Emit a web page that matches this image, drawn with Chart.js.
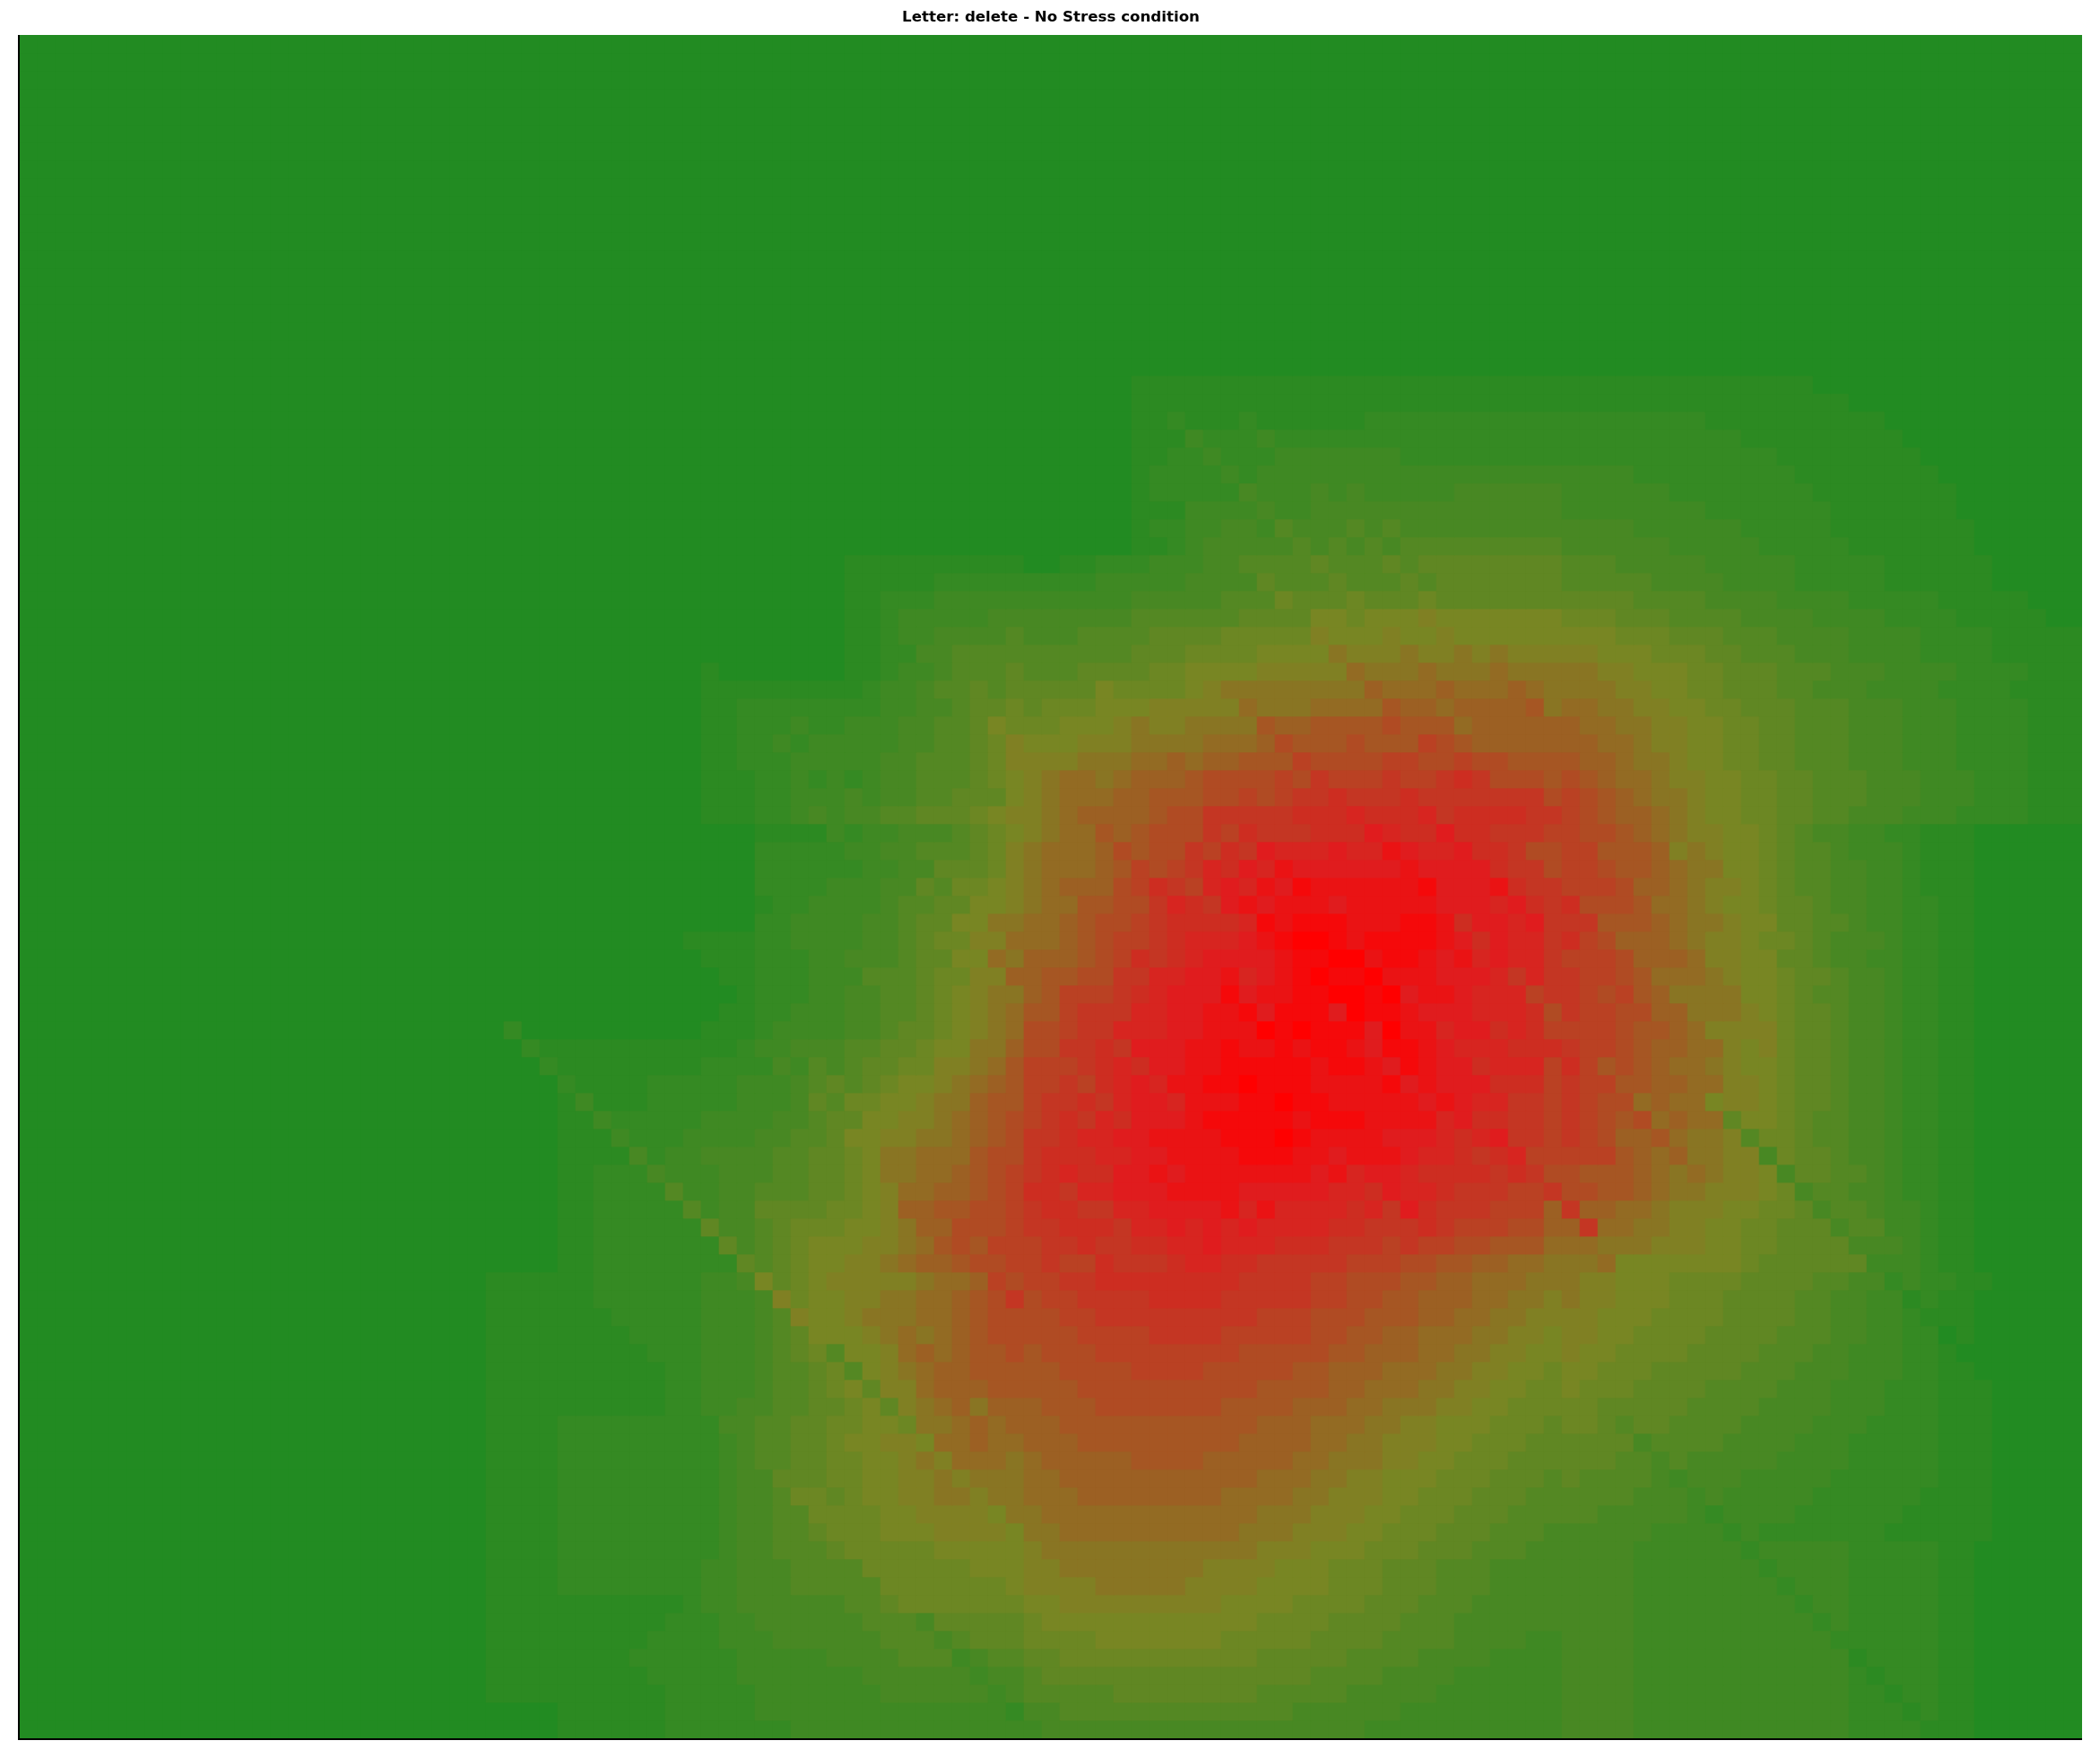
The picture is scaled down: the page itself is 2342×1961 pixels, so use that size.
<!DOCTYPE html>
<html>
<head>
<meta charset="utf-8">
<script src="https://cdn.jsdelivr.net/npm/chart.js@4.4.1/dist/chart.umd.min.js"></script>
<style>
  html, body { margin: 0; padding: 0; background: #ffffff; }
  #wrap { width: 2342px; height: 1961px; }
</style>
</head>
<body>
<div id="wrap"><canvas id="c" width="2342" height="1961"></canvas></div>
<script>
// ---------------- DATA ----------------
const titleText = 'Letter: delete - No Stress condition';

// intensity level of every cell, one string per row (top row first), one char per column
// levels: 0..9 then a..m  (0 = lowest, m = highest)
const A26 = '00000000000000000000000000';
const A30 = '000000000000000000000000000000';
const A29 = '00000000000000000000000000000';

const heatRows = [
  A26 + A30 + A30 + A29,
  A26 + A30 + A30 + A29,
  A26 + A30 + A30 + A29,
  A26 + A30 + A30 + A29,
  A26 + A30 + A30 + A29,
  A26 + A30 + A30 + A29,
  A26 + A30 + A30 + A29,
  A26 + A30 + A30 + A29,
  A26 + A30 + A30 + A29,
  A26 + A30 + A30 + A29,
  A26 + A30 + A30 + A29,
  A26 + A30 + A30 + A29,
  A26 + A30 + A30 + A29,
  A26 + A30 + A30 + A29,
  A26 + A30 + A30 + A29,
  A26 + A30 + A30 + A29,
  A26 + A30 + A30 + A29,
  A26 + A30 + A30 + A29,
  A26 + A30 + A30 + A29,
  A26 + A30 + '000000111111111111111111111111' + '11111111111111000000000000000',
  A26 + A30 + '000000111111111111111111111111' + '11111111111111110000000000000',
  A26 + A30 + '000000112111211111122222222222' + '22222222111111111100000000000',
  A26 + A30 + '000000111322232222222222222222' + '22222222221111111110000000000',
  A26 + A30 + '000000112232223333333222222222' + '22222222222211111111000000000',
  A26 + A30 + '000000122223233333333333333333' + '33332222222221111111100000000',
  A26 + A30 + '000000122222433343433333444444' + '33333322222222111111110000000',
  A26 + A30 + '000000111333343344444444444444' + '33333333222222211111110000000',
  A26 + A30 + '000000122334435444545444444444' + '44443333332222211111111000000',
  A26 + A30 + '000000112344444545454555555555' + '44444433333222221111111000000',
  A26 + '000000000000000000001111111111' + '001122233344555565556566666666' + '55544444333332222211111100000',
  A26 + '000000000000000000001111122222' + '222233333444465556555656666666' + '55555444433332222211111100000',
  A26 + '000000000000000000001122233333' + '333333444445557666766676666666' + '66665555444433332222211111000',
  A26 + '000000000000000000001123333344' + '444444555555666688788898888888' + '77766655554444333322221111100',
  A26 + '000000000000000000001123344445' + '444555566667777798889889888888' + '88877766655544443333222211111',
  A26 + '000000000000000000001122445555' + '55555566677778888a999a99a9a999' + '99888777665554443333222211111',
  A26 + '000000000000100000001123345556' + '555666677888899999baaabaaabaaa' + 'aa998887766655544433332222111',
  A26 + '000000000000111111111233455656' + '66668777789aaaaaaaacbbbcbbbcba' + 'aaa99887766655444333322221111',
  A26 + '000000000000112222222233445667' + '677788899999baaabbbbdccbccccda' + 'bbaa9988776665554443332222111',
  A26 + '000000000000112223223334455687' + '778889a99aaaadccddddedddbccccc' + 'cbbaa998877665554443332222111',
  A26 + '000000000000112232333334455679' + '888999aaaabbbcedddedddfedccccc' + 'ccbba998877665554443332222111',
  A26 + '000000000000112223333344555679' + '999aaabbcbccdddfeeeeffeefeeddd' + 'dccbaa98877665554443332222111',
  A26 + '000000000000111223232344555678' + '9abbabcccdeeeefegfffgffghgeeed' + 'edcbba99887766555444333222111',
  A26 + '000000000000111223334344556668' + '9abbbccdddeefefgghggghggggggge' + 'fedcbaa9887766555444333222111',
  A26 + '000000000000111223434455666789' + '9abccccdeeggggghhhihhhighhhhgg' + 'fedccba9887766554443332222111',
  A26 + '000000000000000111132334445678' + '9abbdcdeeegfhggghhhjihhjhhgggf' + 'feedcba99887654433221' + '11000000',
  A26 + '000000000000000222223344555679' + 'abbbcedeegfhgjiiijiikjiijhhgee' + 'ffdddc9a9887655433321' + '11000000',
  A26 + '000000000000000222222334466679' + 'abbbcdfefgihjikjjjjjjkjjjjhgge' + 'ffeddcbaa887655443321' + '11000000',
  A26 + '000000000000000222233344657789' + 'abcccefhgfijikjlkkkkkkljjjkhgg' + 'fffeccba9987655443321' + '11000000',
  A26 + '000000000000000122333345566889' + 'abbddeegihgjkjkkkjkkkkkjjjijhg' + 'heeedbba9887665443322' + '11000000',
  A26 + '0000000000000002233334456688aa' + 'bbcdeefghhhhilklllkkkllkhjjijg' + 'ggdddcbaa988665543322' + '11000000',
  A26 + '00000000000111122333344567799b' + 'bbcdeffghiiijklmmlkllllkjhjiig' + 'hfecccba9987765444322' + '11000000',
  A26 + '0000000000001112223344456688ba' + 'cccdefhghijjjjkllmmkllkjkijiig' + 'fffecccb9988665443322' + '11000000',
  A26 + '00000000000001122233355567799c' + 'cddeeggiijjkijklmllmkkkjjjigig' + 'gffedbbba988766544322' + '11000000',
  A26 + '0000000000000012223344556789aa' + 'cdfffghijjjljkkllmmlmjkkjiiifg' + 'gfefdcaaaa88765544322' + '11000000',
  A26 + '0000000000000112233344556789ab' + 'ddfgggiijjkkljllljmllkjjjiiihe' + 'gffeeccaaa98766544322' + '11000000',
  A26 + '0200000000001112333344566789ab' + 'eefggiiijjkkkmlmllljmkkijjhihf' + 'fffeddcb9999766544322' + '11000000',
  A26 + '002111111111112334445566788aac' + 'eegghgjjjkklkklkllkjllkjiiihhh' + 'gffedccbb989766544322' + '11000000',
  A26 + '000211111111222243545667799abd' + 'fffghihjjkklllllkllkjlkjjhiiif' + 'hfdedcbba988766544322' + '11000000',
  A26 + '00002111122222333456567889abcd' + 'ffgfhijikkllmlllkkkkljkjjjhhhf' + 'gffddccbb998766544322' + '11000000',
  A26 + '0000131112222233346577889aacdd' + 'fgghgijjikkkllmllkkkkkjkjiiggf' + 'gfeebcbb8998766544322' + '11000000',
  A26 + '0000113222223333445668899abcde' + 'fghgihjjjklllllklllkkkkijhhggf' + 'gfedebcbb688765544322' + '11000000',
  A26 + '000011132223333445568899aabcde' + 'gghiijjkkkklllmlkkkkjjjihijggf' + 'gfeccdbaa957765544322' + '11000000',
  A26 + '0000111142334444556678aabbbdee' + 'ghhhiijjkkkklllkkjkkkjiihghiff' + 'fffdcbcaa994766544322' + '11000000',
  A26 + '0000112224333444556678aabbcdef' + 'ghihhjjkjkkkkkkkjkijjihhhhghge' + 'edddcbaba998466554322' + '11000000',
  A26 + '00001122225334455566789bbccdef' + 'hhgiijjjkkkkjjjjjiihjiihgggffg' + 'eeddcbaa9998745544322' + '11000000',
  A26 + '00001122222534466667789ccddeef' + 'ghhggiijjjjkikiiiihigjhgggfffc' + 'gccbba999887764554332' + '11000000',
  A26 + '00001122222264456777889acceeef' + 'gghhhgiijijijiiiihhggghgfffeec' + 'cgbbaa998877666455332' + '11000000',
  A26 + '00001122222226456788899abdedff' + 'fgghgghhiijiiihhhgggfgffeedddb' + 'bbaaa9998877666644432' + '11000000',
  A26 + '0000112222222265678899abccdeef' + 'fgffhggghiihhgggggfffeeddccbba' + 'aab888888876666663332' + '11000000',
  A26 + '111111222222334867899999abbcfe' + 'ffgghhhhhhhhggggffeeeddccbbbaa' + 'a9988877776666554423221100000',
  A26 + '1111112222223334978899aabbcdeg' + 'effgggghhhhgggggffeeddcccbbaa9' + 'a9988877766665544331211000000',
  A26 + '111111122222333459889aaabbcdee' + 'eeffgggggggggfffeeedddccbbaa99' + '99888777766665544332111000000',
  A26 + '1111111122223334568889ababcdee' + 'eeeffffggggfffffeeddccbbbaa998' + '99887777666655544332201000000',
  A26 + '11111111122233345675889bcbcdde' + 'deeeffffffffeeeeeddcccbbaa9988' + '98877776666555443332210000000',
  A26 + '11111111112233345567589abccddd' + 'ddeeeeffffeeeeeddcccbbbaa99887' + '88777666665554443332211000000',
  A26 + '111111111122333455678699bcccdd' + 'dddeeeeeeeeeeddddccbbbaa998877' + '87776666555544433322211100000',
  A26 + '111111111122334455667869abcacc' + 'cdddeeeeeeeddddcccbbaaa9988777' + '77666665555444433322211100000',
  A26 + '111122222222244556677887aabcbc' + 'ccdddddddddddcccbbbaa998887776' + '77656655554444333222211100000',
  A26 + '1111222222222345566788998bbcbb' + 'cccdddddddddccccbbaa9998877766' + '66664555544443332222211100000',
  A26 + '111122222222234556677889a9bbba' + 'bcccccddddcccccbbaaa9988777666' + '66655454444433332222211100000',
  A26 + '1111222222222344666778899a9aaa' + 'bbcccccccccccbbbaa998887776665' + '65555434443333322222211100000',
  A26 + '1111222222222344577678899aa9aa' + 'bbbccccccccbbbbaa9998877766655' + '55554443433333222222111100000',
  A26 + '11112222222223445577778899998a' + 'abbbbbbbbbbbbaaa99988777666555' + '55444443233332222221111100000',
  A26 + '111122222222234455677788899998' + 'aabbbbbbbbbbaaa999887776665554' + '44444333323222222211111100000',
  A26 + '111122222222234455567777788888' + '9aaaaaaaaaaaa99988877766655544' + '44443333332333332222211000000',
  A26 + '111122222222334445555777777888' + '99aaaaaaaa99998887776665554444' + '44443333333233332222211000000',
  A26 + '111122222222334445555577777778' + '9999aaaaa999988887776665554444' + '44443333333323332222211000000',
  A26 + '111111111112334444445567777777' + '889999999998888777766655544444' + '44443333333332332222211000000',
  A26 + '111111111122233444444555466666' + '788888888888877776666555444444' + '44443333333333232222211000000',
  A26 + '111111111222233344444455545666' + '777788888887777766665555444433' + '44443333333333322222211000000',
  A26 + '111111112222223333344445553455' + '667777777777766666555544443333' + '44443333333333331222211000000',
  A26 + '111111111222223333333444444344' + '566666666666666655554444333333' + '44443333333333332122211000000',
  A26 + '111111111122222333333344444434' + '555556666666655555444443333333' + '44443333333333332212211000000',
  A26 + '000011111122222333333333333332' + '445555555555555444444333333333' + '44443333333333332221211000000',
  A26 + '000011111122222223333333333333' + '344444444444444444433333333333' + '44443333333333332222111000000'
];

// ---------------- STYLE ----------------
const LEVEL_CHARS = '0123456789abcdefghijklm';
const levelStops = [
  [0, [34, 139, 34]],
  [4, [72, 136, 35]],
  [8, [120, 134, 35]],
  [9, [128, 128, 35]],
  [12, [156, 96, 35]],
  [16, [196, 54, 35]],
  [19, [224, 28, 30]],
  [22, [255, 0, 0]]
];

function levelColor(lv) {
  if (lv <= levelStops[0][0]) { const c = levelStops[0][1]; return `rgb(${c[0]},${c[1]},${c[2]})`; }
  for (let i = 0; i < levelStops.length - 1; i++) {
    const [a, ca] = levelStops[i], [b, cb] = levelStops[i + 1];
    if (lv >= a && lv <= b) {
      const t = (lv - a) / (b - a);
      const r = Math.round(ca[0] + (cb[0] - ca[0]) * t);
      const g = Math.round(ca[1] + (cb[1] - ca[1]) * t);
      const bl = Math.round(ca[2] + (cb[2] - ca[2]) * t);
      return `rgb(${r},${g},${bl})`;
    }
  }
  const c = levelStops[levelStops.length - 1][1];
  return `rgb(${c[0]},${c[1]},${c[2]})`;
}

const N_COLS = 115;
const rows = heatRows.map(s => {
  if (s.length > N_COLS) return s.slice(0, N_COLS);
  while (s.length < N_COLS) s += s[s.length - 1];
  return s;
});
const N_ROWS = rows.length;
const colLabels = Array.from({ length: N_COLS }, (_, i) => String(i));

const datasets = rows.map((row, r) => ({
  data: colLabels.map(() => [r, r + 1]),
  backgroundColor: row.split('').map(ch => levelColor(Math.max(0, LEVEL_CHARS.indexOf(ch)))),
  borderWidth: 0,
  grouped: false,
  barPercentage: 1,
  categoryPercentage: 1
}));

const spines = {
  id: 'spines',
  afterDraw(chart) {
    const { ctx, chartArea: a } = chart;
    ctx.save();
    ctx.fillStyle = '#000000';
    ctx.fillRect(a.left - 2, a.top, 2, a.bottom - a.top + 2);
    ctx.fillRect(a.left - 2, a.bottom, a.right - a.left + 2, 2);
    ctx.restore();
  }
};

new Chart(document.getElementById('c'), {
  type: 'bar',
  data: { labels: colLabels, datasets },
  options: {
    responsive: false,
    devicePixelRatio: 1,
    animation: false,
    events: [],
    layout: { padding: { left: 22, right: 20, top: 0, bottom: 22 } },
    plugins: {
      legend: { display: false },
      tooltip: { enabled: false },
      title: {
        display: true,
        text: titleText,
        color: '#000000',
        font: { family: 'DejaVu Sans', size: 16.67, weight: 'bold', lineHeight: 1.2 },
        padding: { top: 9.5, bottom: 9.5 }
      }
    },
    scales: {
      x: { display: false, grid: { display: false } },
      y: { display: false, min: 0, max: N_ROWS, reverse: true, grid: { display: false } }
    }
  },
  plugins: [spines]
});
</script>
</body>
</html>
